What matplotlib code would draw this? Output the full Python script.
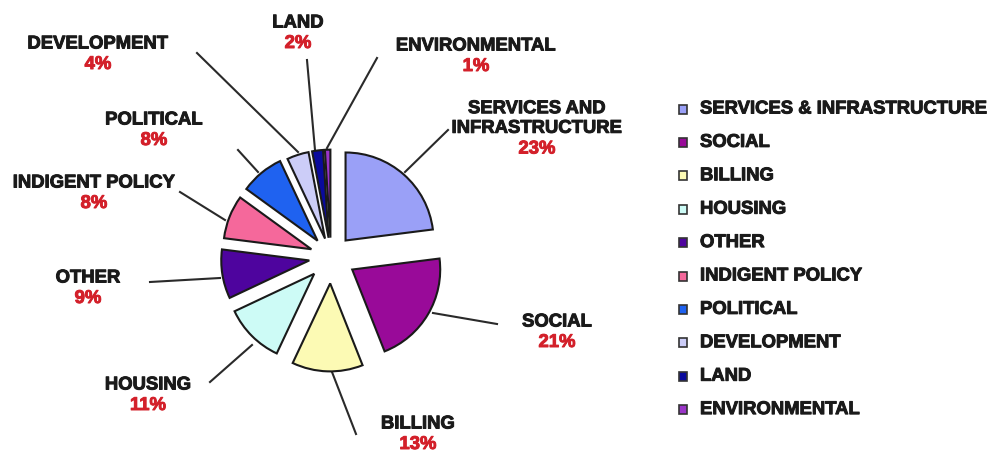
import matplotlib
matplotlib.use("Agg")
import matplotlib.pyplot as plt
import matplotlib.patheffects as pe
from matplotlib.patches import Rectangle

categories = ["SERVICES & INFRASTRUCTURE", "SOCIAL", "BILLING", "HOUSING", "OTHER",
              "INDIGENT POLICY", "POLITICAL", "DEVELOPMENT", "LAND", "ENVIRONMENTAL"]
pie_labels = ["SERVICES AND\nINFRASTRUCTURE", "SOCIAL", "BILLING", "HOUSING", "OTHER",
              "INDIGENT POLICY", "POLITICAL", "DEVELOPMENT", "LAND", "ENVIRONMENTAL"]
values = [23, 21, 13, 11, 9, 8, 8, 4, 2, 1]
colors = ["#9aa0f7", "#990a99", "#fcfab4", "#cdfbf6", "#4e049e",
          "#f5689b", "#1f62f0", "#cccdf8", "#0a0a9c", "#9a35c8"]

# layout (pixel coordinates, y downward)
W, H = 991, 457
CX, CY, R = 331, 257, 88
explode_frac = [0.25, 0.28, 0.30, 0.27, 0.25, 0.24, 0.24, 0.22, 0.22, 0.22]
label_pos = [(537, 108), (557, 322), (418, 424), (148, 385), (88, 278),
             (94, 183), (154, 120), (98, 44), (298, 23), (476, 46)]
line_pts = [((405, 172), (448, 130)), ((433, 313), (497, 324)), ((332, 372), (356, 434)),
            ((252, 345), (210, 382)), ((220, 278), (150, 282)), ((225, 220), (180, 192)),
            ((258, 172), (238, 150)), ((298, 152), (197, 53)), ((315, 150), (307, 60)),
            ((327, 148), (377, 58))]
legend_x, legend_y0, legend_dy = 683, 109, 33.4

plt.rcParams['font.family'] = ['Liberation Sans', 'DejaVu Sans']
fig = plt.figure(figsize=(W / 100, H / 100), dpi=100)
ax = fig.add_axes([0, 0, 1, 1])

ax.pie(values, colors=colors, startangle=-90, counterclock=True,
       center=(CX, CY), radius=R, explode=[f * R for f in explode_frac],
       wedgeprops=dict(edgecolor="#1a1a1a", linewidth=1.5), frame=True)
ax.set_xlim(0, W)
ax.set_ylim(H, 0)
ax.set_aspect('auto')
ax.axis('off')

red = "#d3202a"
dark = "#1a1a1a"
fs = 13.3


def bold(color):
    return [pe.withStroke(linewidth=0.7, foreground=color)]


for lab, v, (x, y), (p0, p1) in zip(pie_labels, values, label_pos, line_pts):
    ax.plot([p0[0], p1[0]], [p0[1], p1[1]], color="#2a2a2a", lw=1.5, zorder=0)
    nlines = lab.count("\n") + 1
    ty = y + 10.5 * (nlines - 1)
    ax.text(x, ty, lab, ha="center", va="center", fontsize=fs, fontweight="bold",
            color=dark, linespacing=1.2, path_effects=bold(dark))
    ax.text(x, y + 20.5 * nlines, f"{v}%", ha="center", va="center", fontsize=fs,
            fontweight="bold", color=red, path_effects=bold(red))

for i, (cat, col) in enumerate(zip(categories, colors)):
    y = legend_y0 + i * legend_dy
    ax.add_patch(Rectangle((legend_x - 4, y - 4.5), 8, 9, facecolor=col,
                           edgecolor="#333333", lw=1.2))
    ax.text(legend_x + 17, y, cat, ha="left", va="center", fontsize=fs,
            fontweight="bold", color=dark, path_effects=bold(dark))

fig.savefig("out.png", dpi=100)
